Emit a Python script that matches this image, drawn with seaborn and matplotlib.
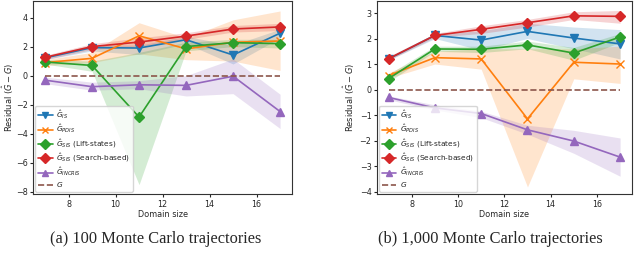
import numpy as np
import matplotlib
matplotlib.use("Agg")
import matplotlib.pyplot as plt
import seaborn as sns

# domain sizes
x = [7, 9, 11, 13, 15, 17]

# ---- (a) 100 Monte Carlo trajectories ----
a_is = [1.22, 1.93, 1.90, 2.47, 1.42, 2.92]
a_is_lo = [1.10, 1.70, 1.45, 2.20, 0.80, 2.60]
a_is_hi = [1.35, 2.10, 2.10, 2.70, 2.10, 3.20]
a_pdis = [0.90, 1.19, 2.74, 1.84, 2.30, 2.38]
a_pdis_lo = [0.70, 0.90, 1.50, 1.10, 1.00, 0.36]
a_pdis_hi = [1.10, 1.60, 3.64, 2.60, 3.84, 4.45]
a_lift = [0.94, 0.70, -2.85, 2.00, 2.27, 2.20]
a_lift_lo = [0.80, 0.30, -7.50, 1.70, 2.00, 1.90]
a_lift_hi = [1.10, 1.00, 1.60, 2.30, 2.50, 2.50]
a_search = [1.26, 2.00, 2.31, 2.72, 3.21, 3.35]
a_search_lo = [1.10, 1.80, 2.00, 2.50, 3.00, 3.10]
a_search_hi = [1.40, 2.20, 2.60, 2.95, 3.45, 3.60]
a_incris = [-0.31, -0.76, -0.63, -0.67, -0.04, -2.47]
a_incris_lo = [-0.55, -1.00, -0.90, -1.40, -1.24, -3.64]
a_incris_hi = [-0.10, -0.45, -0.35, 0.00, 1.15, -1.28]

# ---- (b) 1,000 Monte Carlo trajectories ----
b_is = [1.20, 2.12, 1.94, 2.28, 2.02, 1.79]
b_is_lo = [1.15, 2.00, 1.55, 2.00, 1.60, 1.20]
b_is_hi = [1.25, 2.20, 2.30, 2.60, 2.45, 2.35]
b_pdis = [0.55, 1.25, 1.20, -1.15, 1.07, 1.00]
b_pdis_lo = [0.45, 1.00, 0.80, -3.82, 0.42, 0.24]
b_pdis_hi = [0.65, 1.50, 1.60, 1.60, 1.60, 1.70]
b_lift = [0.43, 1.59, 1.58, 1.75, 1.43, 2.06]
b_lift_lo = [0.30, 1.50, 1.45, 1.60, 1.15, 1.85]
b_lift_hi = [0.60, 1.70, 1.70, 1.90, 1.65, 2.20]
b_search = [1.21, 2.12, 2.36, 2.62, 2.89, 2.87]
b_search_lo = [1.15, 2.05, 2.20, 2.45, 2.75, 2.60]
b_search_hi = [1.30, 2.20, 2.50, 2.75, 3.05, 3.10]
b_incris = [-0.31, -0.72, -0.94, -1.58, -2.02, -2.65]
b_incris_lo = [-0.40, -0.80, -1.10, -1.75, -2.50, -3.40]
b_incris_hi = [-0.25, -0.60, -0.85, -1.40, -1.60, -1.90]

labels = [r'$\hat{G}_{IS}$', r'$\hat{G}_{PDIS}$', r'$\hat{G}_{SIS}$ (Lift-states)',
          r'$\hat{G}_{SIS}$ (Search-based)', r'$\hat{G}_{INCRIS}$']
markers = ['v', 'x', 'D', 'D', '^']
colors = ['tab:blue', 'tab:orange', 'tab:green', 'tab:red', 'tab:purple']

sns.set_style("ticks")
plt.rcParams['font.family'] = ['DejaVu Sans']

fig = plt.figure(figsize=(6.4, 2.63), dpi=100)
ax1 = fig.add_axes([0.052, 0.262, 0.404, 0.735])
ax2 = fig.add_axes([0.589, 0.262, 0.398, 0.735])

panels = [
    (ax1, [(a_is, a_is_lo, a_is_hi), (a_pdis, a_pdis_lo, a_pdis_hi),
           (a_lift, a_lift_lo, a_lift_hi), (a_search, a_search_lo, a_search_hi),
           (a_incris, a_incris_lo, a_incris_hi)], (-8.15, 5.15), [-8, -6, -4, -2, 0, 2, 4], -0.068),
    (ax2, [(b_is, b_is_lo, b_is_hi), (b_pdis, b_pdis_lo, b_pdis_hi),
           (b_lift, b_lift_lo, b_lift_hi), (b_search, b_search_lo, b_search_hi),
           (b_incris, b_incris_lo, b_incris_hi)], (-4.1, 3.48), [-4, -3, -2, -1, 0, 1, 2, 3], -0.078),
]

for ax, series, ylim, yticks, lab_x in panels:
    for (mean, lo, hi), lab, m, c in zip(series, labels, markers, colors):
        sns.lineplot(x=x, y=mean, ax=ax, color=c, marker=m, markersize=5.5,
                     markeredgecolor=c, markeredgewidth=1.0, linewidth=1.2, label=lab)
        ax.fill_between(x, lo, hi, color=c, alpha=0.2, linewidth=0)
    sns.lineplot(x=x, y=[0] * len(x), ax=ax, color='tab:brown', linestyle='--',
                 linewidth=1.2, label=r'$G$')
    ax.set_xlim(6.5, 17.5)
    ax.set_ylim(*ylim)
    ax.set_xticks([8, 10, 12, 14, 16])
    ax.set_yticks(yticks)
    ax.tick_params(labelsize=5.8, length=2.5, pad=1.5)
    ax.set_xlabel('Domain size', fontsize=5.9, labelpad=1)
    ax.set_ylabel(r'Residual ($\hat{G}-G$)', fontsize=6.0)
    ax.yaxis.set_label_coords(lab_x, 0.5)
    ax.legend(loc='lower left', fontsize=5.3, frameon=True, handlelength=2.0,
              borderpad=0.35, labelspacing=0.25, handletextpad=0.5,
              borderaxespad=0.3, markerscale=0.9)
    for s in ax.spines.values():
        s.set_color('#333333')

fig.text(0.244, 0.09, '(a) 100 Monte Carlo trajectories', ha='center', va='center',
         fontsize=11.8, family='Liberation Serif')
fig.text(0.766, 0.09, '(b) 1,000 Monte Carlo trajectories', ha='center', va='center',
         fontsize=11.8, family='Liberation Serif')

fig.savefig('out.png', dpi=100)
